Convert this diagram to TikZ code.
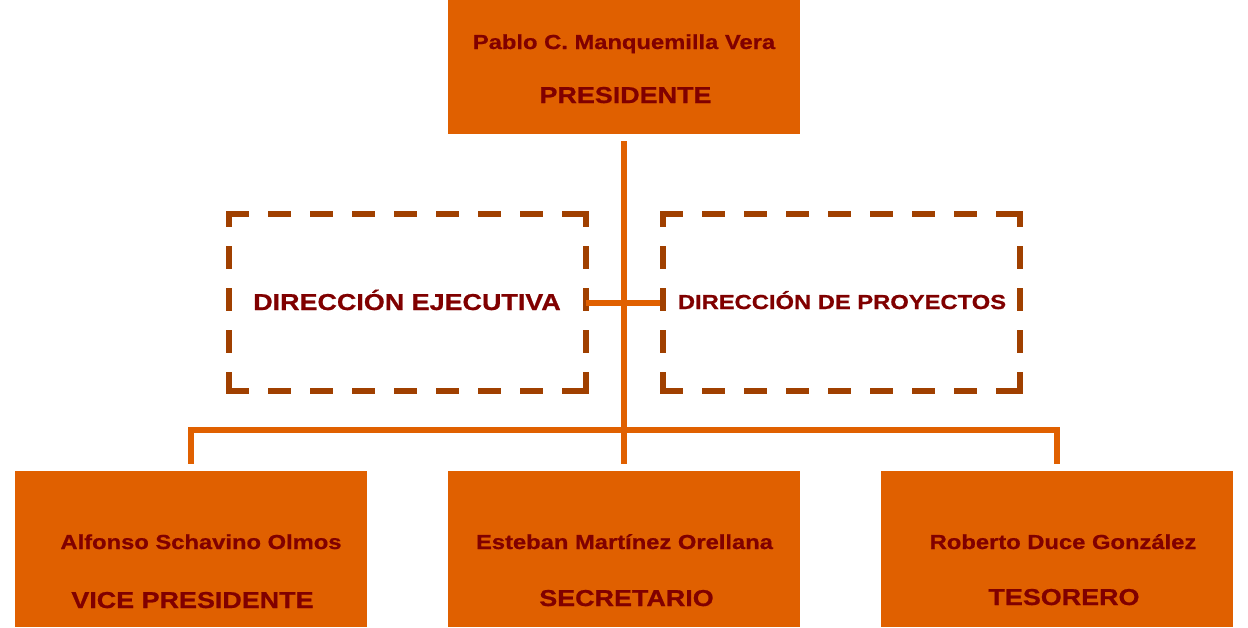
\documentclass[tikz,border=0pt]{standalone}
\usepackage{fontspec}
\setmainfont{Liberation Sans}[FakeStretch=1.17, BoldFeatures={FakeBold=0.8}]
\definecolor{boxorange}{HTML}{E06000}
\definecolor{textred}{HTML}{800000}
\definecolor{dashbrown}{HTML}{A04000}

\begin{document}
\begin{tikzpicture}[x=1pt, y=-1pt,
  post/.style={fill=boxorange, minimum width=352pt, inner sep=0pt},
  area/.style={minimum width=357pt, minimum height=177pt, inner sep=0pt, outer sep=0pt},
  areaside/.style={draw=dashbrown, line width=6pt, line cap=rect, dash pattern=on 17pt off 25pt},
  link/.style={draw=boxorange, line width=6pt},
  who/.style={text=textred, anchor=base, inner sep=0pt, font=\bfseries\fontsize{20.3}{24}\selectfont},
  role/.style={text=textred, anchor=base, inner sep=0pt, font=\bfseries\fontsize{23}{27}\selectfont}
]
\useasboundingbox (0,0) rectangle (1248,627);

%% boxes
\node[post, minimum height=134pt] (pres) at (624,67) {};
\node[post, minimum height=156pt] (vice) at (191,549) {};
\node[post, minimum height=156pt] (secr) at (624,549) {};
\node[post, minimum height=156pt] (teso) at (1057,549) {};
\node[area] (ejec) at (407.5,302.5) {};
\node[area] (proy) at (841,302.5) {};

%% dashed frames
\foreach \a in {ejec,proy} {
  \draw[areaside] (\a.north west) -- (\a.north east);
  \draw[areaside] (\a.south west) -- (\a.south east);
  \draw[areaside, dash phase=7pt] (\a.north west) -- (\a.south west);
  \draw[areaside, dash phase=7pt] (\a.north east) -- (\a.south east);
}

%% connectors
\coordinate (bus) at (624,430);
\draw[link] ([yshift=-7pt]pres.south) -- ([yshift=7pt]secr.north);
\draw[link] ([yshift=7pt]vice.north) |- (bus) -| ([yshift=7pt]teso.north);
\draw[link] (ejec.east) -- ([xshift=-3pt]proy.west);

%% texts
\node[who] (presName) at (624,49) {Pablo C. Manquemilla Vera};
\node[role] (presRole) at (625.5,103) {PRESIDENTE};
\node[role] (ejecText) at (407,310) {DIRECCIÓN EJECUTIVA};
\node[who] (proyText) at (842,309) {DIRECCIÓN DE PROYECTOS};
\node[who] (viceName) at (201,549) {Alfonso Schavino Olmos};
\node[role] (viceRole) at (192.5,608) {VICE PRESIDENTE};
\node[who] (secrName) at (624.5,549) {Esteban Martínez Orellana};
\node[role] (secrRole) at (626.5,606) {SECRETARIO};
\node[who] (tesoName) at (1063,549) {Roberto Duce González};
\node[role] (tesoRole) at (1064,605) {TESORERO};
\end{tikzpicture}
\end{document}
